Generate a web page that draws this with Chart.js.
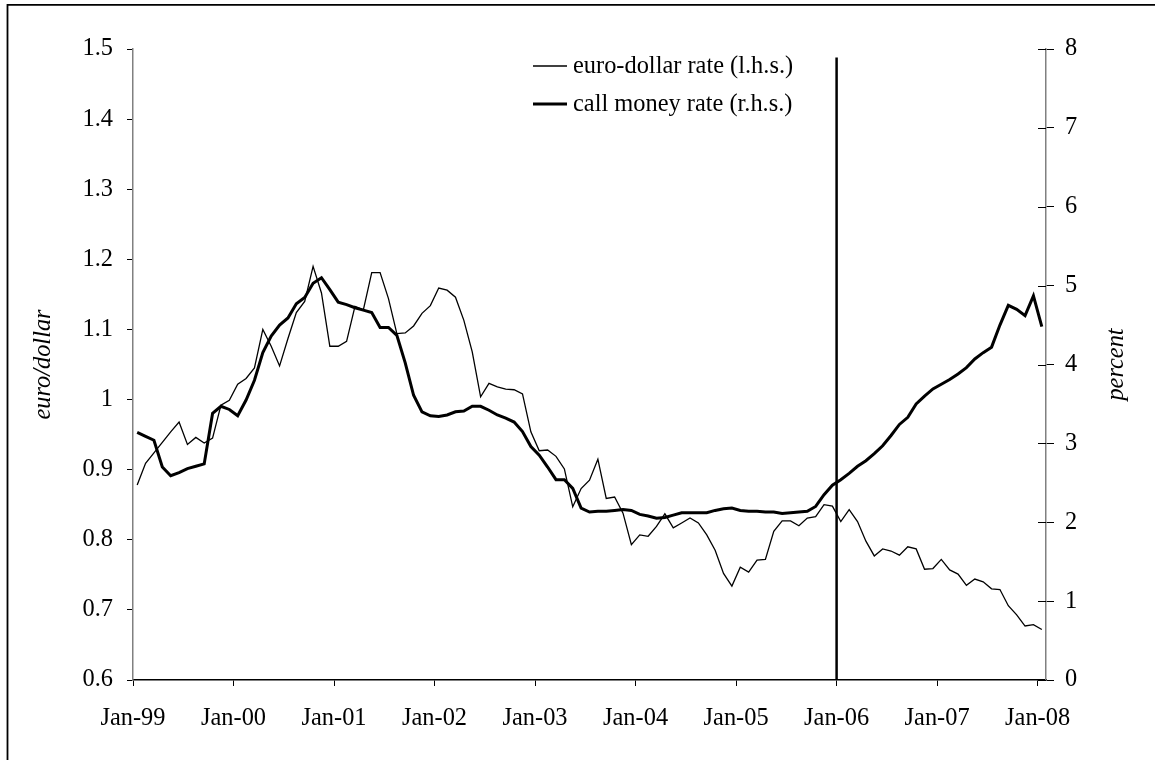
<!DOCTYPE html>
<html>
<head>
<meta charset="utf-8">
<script src="https://cdn.jsdelivr.net/npm/chart.js@4.4.1/dist/chart.umd.min.js"></script>
<style>
  html, body { margin: 0; padding: 0; background: #fff; }
  #wrap { width: 1155px; height: 760px; position: relative; }
</style>
</head>
<body>
<div id="wrap"><canvas id="fxChart" width="1155" height="760"></canvas></div>
<script>
// Monthly values, Jan-99 .. Jan-08
const euroDollar = [
  0.878, 0.909, 0.924, 0.939, 0.954, 0.968, 0.936, 0.946, 0.938, 0.945, 0.992, 0.999,
  1.022, 1.030, 1.045, 1.100, 1.076, 1.048, 1.087, 1.124, 1.140, 1.190, 1.152, 1.076,
  1.076, 1.083, 1.133, 1.128, 1.181, 1.181, 1.144, 1.094, 1.095, 1.105, 1.123, 1.134,
  1.159, 1.156, 1.146, 1.113, 1.068, 1.004, 1.023, 1.018, 1.015, 1.014, 1.008, 0.954,
  0.927, 0.928, 0.919, 0.901, 0.847, 0.873, 0.885, 0.915, 0.859, 0.861, 0.838, 0.793,
  0.807, 0.805, 0.819, 0.837, 0.817, 0.824, 0.831, 0.824, 0.807, 0.785, 0.752, 0.734,
  0.761, 0.754, 0.771, 0.772, 0.812, 0.827, 0.827, 0.820, 0.831, 0.833, 0.850, 0.848,
  0.826, 0.843, 0.826, 0.798, 0.777, 0.787, 0.784, 0.778, 0.790, 0.787, 0.758, 0.759,
  0.772, 0.757, 0.751, 0.735, 0.744, 0.740, 0.730, 0.729, 0.706, 0.693, 0.677, 0.679,
  0.672
];

const callMoney = [
  3.14, 3.09, 3.04, 2.70, 2.59, 2.63, 2.68, 2.71, 2.74, 3.38, 3.47, 3.43,
  3.35, 3.55, 3.80, 4.15, 4.36, 4.50, 4.59, 4.77, 4.85, 5.03, 5.10, 4.95,
  4.79, 4.76, 4.72, 4.69, 4.66, 4.47, 4.47, 4.37, 4.02, 3.61, 3.40, 3.35,
  3.34, 3.36, 3.40, 3.41, 3.47, 3.47, 3.42, 3.36, 3.32, 3.27, 3.15, 2.96,
  2.85, 2.70, 2.54, 2.54, 2.43, 2.18, 2.13, 2.14, 2.14, 2.15, 2.16, 2.15,
  2.10, 2.08, 2.05, 2.06, 2.09, 2.12, 2.12, 2.12, 2.12, 2.15, 2.17, 2.18,
  2.15, 2.14, 2.14, 2.13, 2.13, 2.11, 2.12, 2.13, 2.14, 2.20, 2.35, 2.47,
  2.54, 2.62, 2.71, 2.78, 2.87, 2.97, 3.10, 3.24, 3.33, 3.50, 3.60, 3.69,
  3.75, 3.81, 3.88, 3.96, 4.07, 4.15, 4.22, 4.50, 4.75, 4.70, 4.62, 4.87,
  4.48
];

// x axis: months since Jan-99, one tick per January
const yearLabels = ['Jan-99', 'Jan-00', 'Jan-01', 'Jan-02', 'Jan-03', 'Jan-04', 'Jan-05', 'Jan-06', 'Jan-07', 'Jan-08'];
const yearTicks = [0, 12, 24, 36, 48, 60, 72, 84, 96, 108];
const leftTicks = [0.6, 0.7, 0.8, 0.9, 1.0, 1.1, 1.2, 1.3, 1.4, 1.5];
const rightTicks = [0, 1, 2, 3, 4, 5, 6, 7, 8];

// vertical marker at Jan-06
const markerMonth = 84;
const markerTop = 1.488;

const legendItems = [
  { text: 'euro-dollar rate (l.h.s.)', width: 1.3 },
  { text: 'call money rate (r.h.s.)', width: 3 }
];

const FONT = '"Liberation Serif", "Times New Roman", serif';
const FONT_SIZE = 24.4;

// monthly observations sit in the middle of each month
const toPoints = (arr) => arr.map((v, i) => ({ x: i + 0.5, y: v }));

const decorPlugin = {
  id: 'decor',
  afterDraw(chart) {
    const ctx = chart.ctx;
    const area = chart.chartArea;
    const yR = chart.scales.yR;
    ctx.save();

    // inner half of the right-hand ticks (they cross the axis)
    ctx.strokeStyle = '#000';
    ctx.lineWidth = 1;
    rightTicks.forEach(v => {
      const y = Math.round(yR.getPixelForValue(v)) + 0.5;
      ctx.beginPath();
      ctx.moveTo(area.right - 8, y);
      ctx.lineTo(area.right, y);
      ctx.stroke();
    });

    // axis titles (both read bottom to top)
    ctx.fillStyle = '#000';
    ctx.font = 'italic ' + FONT_SIZE + 'px ' + FONT;
    ctx.textAlign = 'center';
    ctx.textBaseline = 'middle';
    const midY = (area.top + area.bottom) / 2;
    [['euro/dollar', 44], ['percent', 1117]].forEach(([t, x]) => {
      ctx.save();
      ctx.translate(x, midY);
      ctx.rotate(-Math.PI / 2);
      ctx.fillText(t, 0, 0);
      ctx.restore();
    });

    // legend inside the plot
    ctx.font = FONT_SIZE + 'px ' + FONT;
    ctx.textAlign = 'left';
    legendItems.forEach((item, k) => {
      const y = 66 + k * 38;
      ctx.lineWidth = item.width;
      ctx.beginPath();
      ctx.moveTo(533, y);
      ctx.lineTo(567, y);
      ctx.stroke();
      ctx.fillText(item.text, 573, y + 1);
    });

    // frame of the page
    ctx.lineWidth = 1.8;
    ctx.beginPath();
    ctx.moveTo(7.5, 770);
    ctx.lineTo(7.5, 4.8);
    ctx.lineTo(1160, 4.8);
    ctx.stroke();

    ctx.restore();
  }
};

new Chart(document.getElementById('fxChart'), {
  type: 'line',
  data: {
    datasets: [
      {
        label: 'euro-dollar rate (l.h.s.)',
        data: toPoints(euroDollar),
        yAxisID: 'yL',
        borderColor: '#000',
        borderWidth: 1.3,
        pointRadius: 0,
        tension: 0,
        fill: false
      },
      {
        label: 'call money rate (r.h.s.)',
        data: toPoints(callMoney),
        yAxisID: 'yR',
        borderColor: '#000',
        borderWidth: 3,
        pointRadius: 0,
        tension: 0,
        fill: false
      },
      {
        label: 'marker',
        data: [{ x: markerMonth, y: 0.6 }, { x: markerMonth, y: markerTop }],
        yAxisID: 'yL',
        borderColor: '#000',
        borderWidth: 2.5,
        pointRadius: 0,
        fill: false
      }
    ]
  },
  options: {
    responsive: false,
    animation: false,
    layout: { padding: { left: 0, right: 0, top: 49, bottom: 0 } },
    plugins: {
      legend: { display: false },
      tooltip: { enabled: false }
    },
    scales: {
      x: {
        type: 'linear',
        min: 0,
        max: 109,
        afterBuildTicks: s => { s.ticks = yearTicks.map(v => ({ value: v })); },
        afterFit: s => { s.height = 80; },
        grid: { display: true, drawOnChartArea: false, drawTicks: true, tickLength: 6, color: '#000', lineWidth: 1 },
        border: { display: true, color: '#000', width: 1.5 },
        ticks: {
          autoSkip: false,
          maxRotation: 0,
          padding: 18,
          color: '#000',
          font: { family: FONT, size: FONT_SIZE },
          callback: (v) => yearLabels[yearTicks.indexOf(v)]
        }
      },
      yL: {
        type: 'linear',
        position: 'left',
        min: 0.6,
        max: 1.5,
        afterBuildTicks: s => { s.ticks = leftTicks.map(v => ({ value: v })); },
        afterFit: s => { s.width = 133; },
        grid: { display: true, drawOnChartArea: false, drawTicks: true, tickLength: 6, color: '#000', lineWidth: 1 },
        border: { display: true, color: '#808080', width: 1.5 },
        ticks: {
          padding: 14,
          color: '#000',
          font: { family: FONT, size: FONT_SIZE },
          callback: (v) => String(Number(v.toFixed(1)))
        }
      },
      yR: {
        type: 'linear',
        position: 'right',
        min: 0,
        max: 8,
        afterBuildTicks: s => { s.ticks = rightTicks.map(v => ({ value: v })); },
        afterFit: s => { s.width = 109; },
        grid: { display: true, drawOnChartArea: false, drawTicks: true, tickLength: 8, color: '#000', lineWidth: 1 },
        border: { display: true, color: '#808080', width: 1.5 },
        ticks: {
          padding: 11,
          color: '#000',
          font: { family: FONT, size: FONT_SIZE }
        }
      }
    }
  },
  plugins: [decorPlugin]
});
</script>
</body>
</html>
